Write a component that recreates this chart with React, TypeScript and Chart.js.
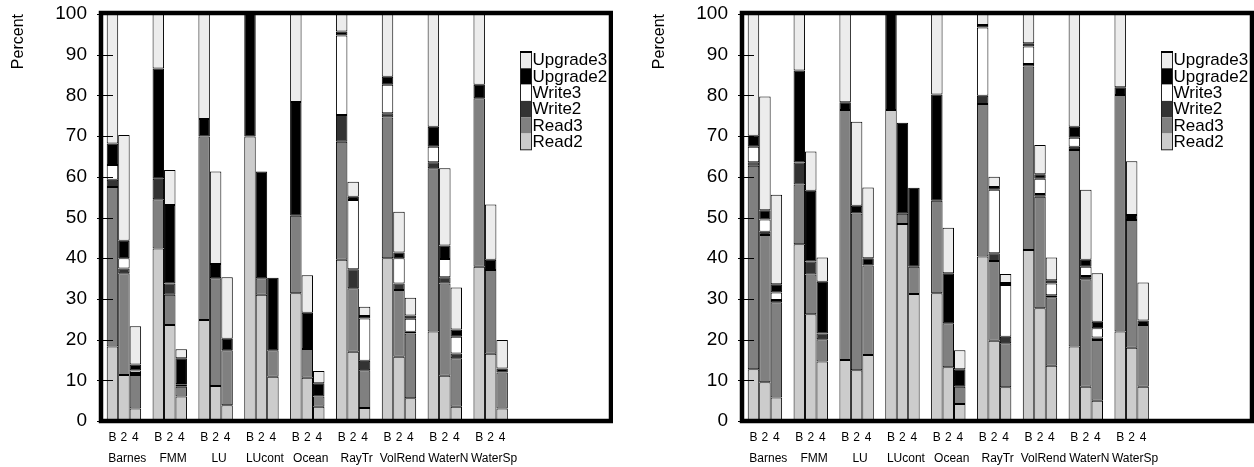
import React, { useEffect, useRef } from "react";
import { Chart, registerables } from "chart.js";

Chart.register(...registerables);

const FONT = "'Liberation Sans', Arial, Helvetica, sans-serif";

const groups = ["Barnes", "FMM", "LU", "LUcont", "Ocean", "RayTr", "VolRend", "WaterN", "WaterSp"];
const barLabels = ["B", "2", "4"];
const seriesNames = ["Read2", "Read3", "Write2", "Write3", "Upgrade2", "Upgrade3"];
const seriesColors = ["#cccccc", "#808080", "#333333", "#ffffff", "#000000", "#ececec"];
const yTickValues = [0, 10, 20, 30, 40, 50, 60, 70, 80, 90, 100];

// Left panel (values per bar: B, 2, 4 for each group)
const leftRead2 = [18.3, 11.3, 3.1, 42.4, 23.6, 6.0, 24.8, 8.6, 3.9, 69.9, 31.0, 10.9, 31.4, 10.6, 3.5, 39.6, 17.0, 3.2, 40.0, 15.8, 5.6, 22.0, 11.1, 3.5, 37.9, 16.5, 3.1];
const leftRead3 = [39.2, 25.0, 8.2, 12.1, 7.4, 2.4, 45.1, 26.5, 13.5, 0, 4.1, 6.5, 19.0, 7.1, 2.5, 29.0, 15.6, 9.3, 34.6, 16.4, 15.9, 40.1, 22.7, 11.9, 41.4, 20.6, 8.8];
const leftWrite2 = [1.8, 1.2, 0.5, 5.0, 2.8, 0.5, 0, 0, 0, 0, 0, 0, 0, 0, 0, 6.6, 4.7, 2.3, 1.0, 1.6, 0.4, 1.5, 1.5, 1.2, 0, 0, 0];
const leftWrite3 = [3.6, 2.5, 0.6, 0, 0, 0.2, 0, 0, 0, 0, 0, 0, 0, 0, 0, 19.5, 17.0, 10.4, 7.0, 6.2, 3.2, 3.8, 4.5, 4.1, 0, 0, 0];
const leftUpgrade2 = [5.3, 4.3, 1.5, 27.1, 19.3, 6.3, 4.3, 3.5, 2.8, 30.1, 26.2, 17.8, 28.0, 8.9, 3.3, 1.0, 0.8, 0.6, 2.0, 1.4, 0.8, 4.9, 3.3, 1.8, 3.3, 2.5, 1.0];
const leftUpgrade3 = [31.8, 26.0, 9.4, 13.4, 8.6, 2.2, 25.8, 22.7, 15.1, 0, 0, 0, 21.6, 9.2, 3.0, 4.3, 3.7, 2.3, 15.4, 10.0, 4.4, 27.7, 19.0, 10.3, 17.4, 13.6, 7.0];

// Right panel
const rightRead2 = [12.7, 9.5, 5.8, 43.4, 26.2, 14.6, 15.0, 12.5, 16.2, 76.4, 48.4, 31.2, 31.4, 13.2, 4.2, 40.4, 19.7, 8.3, 42.0, 27.7, 13.6, 18.3, 8.4, 5.0, 22.0, 18.0, 8.4];
const rightRead3 = [50.0, 36.2, 23.4, 14.7, 9.8, 5.5, 61.4, 38.5, 22.0, 0, 2.5, 6.7, 22.7, 10.8, 4.2, 37.5, 19.6, 10.8, 45.1, 27.4, 16.8, 48.3, 26.4, 14.9, 58.1, 31.4, 15.2];
const rightWrite2 = [0.9, 0.8, 0.5, 5.4, 3.2, 1.4, 0, 0, 0, 0, 0, 0, 0, 0, 0, 2.0, 1.9, 1.6, 0.6, 0.7, 0.5, 0.8, 0.8, 0.6, 0, 0, 0];
const rightWrite3 = [3.8, 3.0, 1.9, 0, 0, 0, 0, 0, 0, 0, 0, 0, 0, 0, 0, 16.8, 15.6, 12.7, 4.3, 3.7, 2.9, 2.2, 2.3, 2.3, 0, 0, 0];
const rightUpgrade2 = [2.7, 2.3, 2.0, 22.6, 17.4, 12.7, 1.9, 1.9, 1.8, 23.6, 22.4, 19.4, 26.1, 12.3, 4.3, 0.6, 0.7, 0.5, 0.8, 1.1, 0.8, 2.7, 1.7, 1.6, 1.9, 1.2, 1.1];
const rightUpgrade3 = [29.9, 27.9, 22.0, 13.9, 9.6, 6.0, 21.7, 20.6, 17.4, 0, 0, 0, 19.8, 11.2, 4.7, 2.7, 2.5, 2.2, 7.2, 7.2, 5.6, 27.7, 17.2, 11.9, 18.0, 13.2, 9.3];

const leftSeries = [leftRead2, leftRead3, leftWrite2, leftWrite3, leftUpgrade2, leftUpgrade3];
const rightSeries = [rightRead2, rightRead3, rightWrite2, rightWrite3, rightUpgrade2, rightUpgrade3];

// slot position of each bar: 3 bars + 1 empty slot per group
const positions = groups.flatMap((_, g) => barLabels.map((_, b) => g * 4 + b));
const groupCenters = groups.map((_, g) => g * 4 + 1.3);

const framePlugin = {
  id: "frame",
  afterDatasetsDraw(chart: any) {
    const { ctx, chartArea: a, scales } = chart;
    ctx.save();
    // y tick marks crossing the axis
    ctx.strokeStyle = "#000";
    ctx.lineWidth = 1;
    for (const t of scales.y.ticks) {
      const py = Math.round(scales.y.getPixelForValue(t.value)) + 0.5;
      ctx.beginPath();
      ctx.moveTo(a.left - 4, py);
      ctx.lineTo(a.left + 12, py);
      ctx.stroke();
    }
    // thick frame
    ctx.lineWidth = 4.5;
    ctx.strokeRect(a.left, a.top - 1, a.right - a.left, a.bottom - a.top + 1);

    // legend
    const ds = chart.data.datasets.slice().reverse();
    const lx = a.right - 91;
    const ly = a.top + 38;
    const sh = 16.3;
    const sw = 11;
    ds.forEach((d: any, i: number) => {
      const y0 = ly + i * sh;
      ctx.fillStyle = d.backgroundColor;
      ctx.fillRect(lx, y0, sw, sh);
    });
    ctx.lineWidth = 1;
    ctx.strokeStyle = "#222";
    ctx.strokeRect(lx + 0.5, ly, sw, sh * ds.length);
    ctx.lineWidth = 2;
    ctx.strokeStyle = "#000";
    ctx.beginPath();
    ctx.moveTo(lx, ly);
    ctx.lineTo(lx + sw + 1, ly);
    ctx.stroke();
    ctx.fillStyle = "#000";
    ctx.font = `17px ${FONT}`;
    ctx.textBaseline = "middle";
    ctx.textAlign = "left";
    ds.forEach((d: any, i: number) => {
      ctx.fillText(d.label, lx + sw + 1.5, ly + i * sh + sh / 2 + 0.5);
    });
    ctx.restore();
  },
};

const zeroPad = (s: any) => {
  s.paddingTop = 0;
  s.paddingBottom = 0;
  s.paddingLeft = 0;
  s.paddingRight = 0;
};

function makeConfig(series: number[][]): any {
  return {
    type: "bar",
    data: {
      datasets: series.map((vals, s) => ({
        label: seriesNames[s],
        data: vals.map((v, i) => ({ x: positions[i], y: v })),
        backgroundColor: seriesColors[s],
        borderColor: "#000",
        borderWidth: 1,
        borderSkipped: false,
        inflateAmount: 0,
        barPercentage: 1,
        categoryPercentage: 1,
      })),
    },
    options: {
      responsive: false,
      animation: false,
      events: [],
      layout: { padding: { top: 14, right: 2, left: 0, bottom: 0 } },
      plugins: { legend: { display: false }, tooltip: { enabled: false } },
      scales: {
        x: {
          type: "linear",
          stacked: true,
          offset: false,
          min: -1,
          max: 43.5,
          weight: 0,
          afterBuildTicks: (s: any) => {
            s.ticks = positions.map((v) => ({ value: v }));
          },
          afterFit: (s: any) => {
            s.height = 24;
            zeroPad(s);
          },
          grid: { display: false, drawTicks: false, offset: false },
          border: { display: false },
          ticks: {
            autoSkip: false,
            maxRotation: 0,
            padding: 9,
            color: "#000",
            font: { size: 12, family: FONT },
            callback: (_v: any, i: number) => barLabels[i % 3],
          },
        },
        x2: {
          type: "linear",
          position: "bottom",
          offset: false,
          min: -1,
          max: 43.5,
          weight: 1,
          afterBuildTicks: (s: any) => {
            s.ticks = groupCenters.map((v) => ({ value: v }));
          },
          afterFit: (s: any) => {
            s.height = 22;
            zeroPad(s);
          },
          grid: { display: false, drawTicks: false, offset: false },
          border: { display: false },
          ticks: {
            autoSkip: false,
            maxRotation: 0,
            padding: 6,
            color: "#000",
            font: { size: 12, family: FONT },
            callback: (_v: any, i: number) => groups[i],
          },
        },
        y: {
          stacked: true,
          min: 0,
          max: 100,
          afterBuildTicks: (s: any) => {
            s.ticks = yTickValues.map((v) => ({ value: v }));
          },
          afterFit: (s: any) => {
            s.width = 101;
            zeroPad(s);
          },
          grid: { display: false, drawTicks: false },
          border: { display: false },
          ticks: {
            padding: 14,
            color: "#000",
            font: { size: 19, family: FONT },
          },
          title: {
            display: true,
            text: "Percent",
            align: "end",
            color: "#000",
            font: { size: 16, family: FONT },
            padding: { top: 9, bottom: 0 },
          },
        },
      },
    },
    plugins: [framePlugin],
  };
}

function Panel({ series, left }: { series: number[][]; left: number }) {
  const ref = useRef<HTMLCanvasElement | null>(null);
  useEffect(() => {
    if (!ref.current) return;
    const chart = new Chart(ref.current, makeConfig(series));
    return () => chart.destroy();
  }, [series]);
  return (
    <canvas
      ref={ref}
      width={613}
      height={467}
      style={{ position: "absolute", left, top: 0, width: 613, height: 467, display: "block" }}
    />
  );
}

export default function App() {
  return (
    <div style={{ position: "fixed", left: 0, top: 0, width: 1254, height: 467, background: "#fff", overflow: "hidden" }}>
      <Panel series={leftSeries} left={0} />
      <Panel series={rightSeries} left={641} />
    </div>
  );
}
